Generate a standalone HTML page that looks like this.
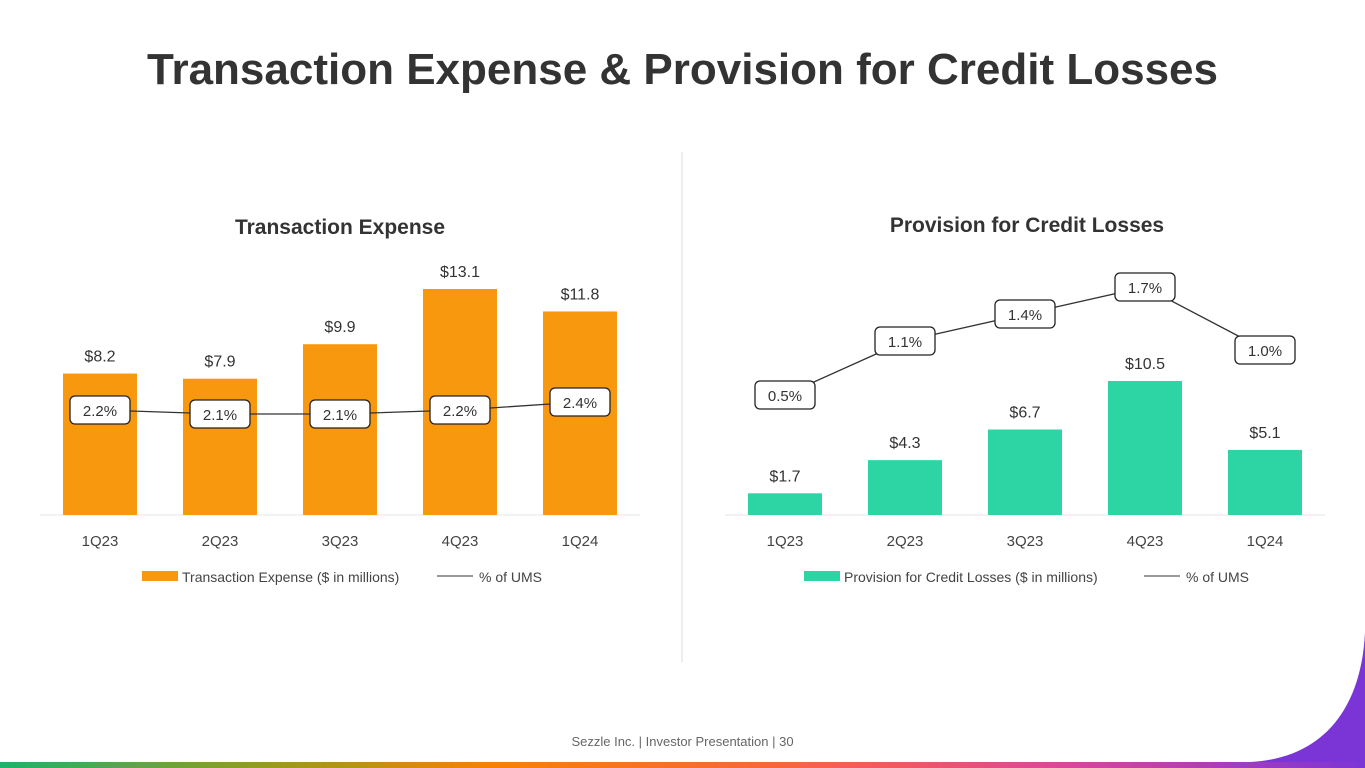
<!DOCTYPE html>
<html><head><meta charset="utf-8"><style>
body{margin:0;width:1365px;height:768px;overflow:hidden;background:#fff;font-family:"Liberation Sans",sans-serif;position:relative}
.title{position:absolute;left:0;width:1365px;top:45px;text-align:center;font-size:44px;font-weight:bold;color:#333}
.foot{position:absolute;left:0;width:1365px;top:734px;text-align:center;font-size:13px;color:#666}
.bar{position:absolute;left:0;top:762px;width:1365px;height:6px;background:linear-gradient(90deg,#1fb26b 0%,#9a9a20 20%,#f58208 36%,#f4604f 62%,#d8489a 78%,#7b35d6 100%)}
svg{position:absolute;left:0;top:0}
</style></head><body>
<div class="title">Transaction Expense &amp; Provision for Credit Losses</div>
<svg width="1365" height="768">
<line x1="682" y1="152" x2="682" y2="662" stroke="#ddd" stroke-width="1"/>
<path d="M1365 632 C1362 700 1330 758 1250 762 L1365 762 Z" fill="#7b35d6"/>
<g id="left"></g>
<g id="right"></g>
</svg>
<div class="foot">Sezzle Inc. | Investor Presentation | 30</div>
<div class="bar"></div>
<script>
const categories=["1Q23","2Q23","3Q23","4Q23","1Q24"];
const txValues=[8.2,7.9,9.9,13.1,11.8];
const txPct=[2.2,2.1,2.1,2.2,2.4];
const pvValues=[1.7,4.3,6.7,10.5,5.1];
const pvPct=[0.5,1.1,1.4,1.7,1.0];
const NS="http://www.w3.org/2000/svg";
function mk(p,t,a,txt){const e=document.createElementNS(NS,t);for(const k in a)e.setAttribute(k,a[k]);if(txt!=null)e.textContent=txt;p.appendChild(e);return e;}
function draw(g,cfg){
  const base=515;
  const xc=i=>cfg.x0+i*120;
  const yb=v=>base-v*cfg.bs;
  const yl=v=>cfg.l0-v*cfg.ls;
  let t=mk(g,"text",{x:cfg.cx,y:cfg.ty,"text-anchor":"middle","font-size":"21","font-weight":"bold",fill:"#333"},cfg.title);
  
  
  let ax=mk(g,"line",{x1:cfg.x0-60,x2:cfg.x0+540,y1:base,y2:base,stroke:"#e6e6e6"});
  
  
  cfg.vals.forEach((v,i)=>{
    let r=mk(g,"rect",{x:xc(i)-37,y:yb(v),width:74,height:base-yb(v),fill:cfg.color});
    
    
    let l=mk(g,"text",{x:xc(i),y:yb(v)-12,"text-anchor":"middle","font-size":"16",fill:"#333"},"$"+v.toFixed(1));
    
    
    let c=mk(g,"text",{x:xc(i),y:546,"text-anchor":"middle","font-size":"15",fill:"#444"},categories[i]);
    
    
  });
  let pl=mk(g,"polyline",{points:cfg.pct.map((v,i)=>xc(i)+","+yl(v)).join(" "),fill:"none",stroke:"#333","stroke-width":"1.3"});
  
  
  cfg.pct.forEach((v,i)=>{
    let b=mk(g,"rect",{x:xc(i)-30,y:yl(v)-14,width:60,height:28,rx:5,fill:"#fff",stroke:"#222","stroke-width":"1.3"});
    
    
    let tt=mk(g,"text",{x:xc(i),y:yl(v)+6,"text-anchor":"middle","font-size":"15",fill:"#333"},v.toFixed(1)+"%");
    
    
  });
  let lg=mk(g,"g",{});
  
  
  mk(lg,"rect",{x:cfg.lgx,y:571,width:36,height:10,fill:cfg.color});
  mk(lg,"text",{x:cfg.lgx+40,y:582,"font-size":"14",fill:"#444"},cfg.lgText);
  mk(lg,"line",{x1:cfg.lgx2,x2:cfg.lgx2+36,y1:576,y2:576,stroke:"#333"});
  mk(lg,"text",{x:cfg.lgx2+42,y:582,"font-size":"14",fill:"#444"},"% of UMS");
}
draw(document.getElementById("left"),{x0:100,bs:17.25,l0:498,ls:40,vals:txValues,pct:txPct,color:"#f7980f",title:"Transaction Expense",cx:340,ty:234,lgx:142,lgx2:437,lgText:"Transaction Expense ($ in millions)"});
draw(document.getElementById("right"),{x0:785,bs:12.76,l0:440,ls:90,vals:pvValues,pct:pvPct,color:"#2dd4a4",title:"Provision for Credit Losses",cx:1027,ty:232,lgx:804,lgx2:1144,lgText:"Provision for Credit Losses ($ in millions)"});
</script>
</body></html>
